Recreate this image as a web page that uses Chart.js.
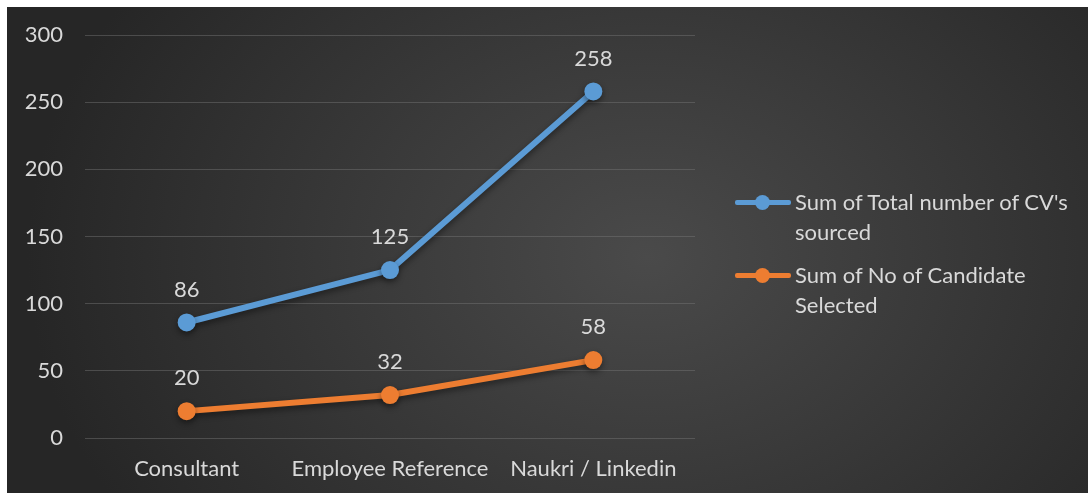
<!DOCTYPE html>
<html><head><meta charset="utf-8">
<script src="https://cdn.jsdelivr.net/npm/chart.js@4/dist/chart.umd.min.js"></script>
<style>
html,body{margin:0;padding:0;background:#fff;width:1088px;height:495px;overflow:hidden;}
#wrap{position:absolute;left:7px;top:7px;width:1081px;height:486px;
 background:radial-gradient(ellipse 620px 480px at 640px 250px,#4a4a4a 0%,#3a3a3a 45%,#262626 100%);}
#c{position:absolute;left:0;top:0;}
.leg{position:absolute;font-family:Lato,"Open Sans",sans-serif;font-size:22px;line-height:30px;color:#d9d9d9;}
.mk{position:absolute;width:56px;height:5px;border-radius:2px;}
.mk i{position:absolute;left:20px;top:-5px;width:15px;height:15px;border-radius:50%;}
</style></head>
<body>
<div id="wrap"><canvas id="c" width="1081" height="486"></canvas>
<div class="mk" style="left:728px;top:193px;background:#5B9BD5"><i style="background:#5B9BD5"></i></div>
<div class="leg" id="l1" style="left:788px;top:180px;"></div>
<div class="mk" style="left:728px;top:266px;background:#ED7D31"><i style="background:#ED7D31"></i></div>
<div class="leg" id="l2" style="left:788px;top:253px;"></div>
</div>
<script>
const categories = ["Consultant", "Employee Reference", "Naukri / Linkedin"];
const seriesNames = ["Sum of Total number of CV's sourced", "Sum of No of Candidate Selected"];
const cvSourced = [86, 125, 258];
const candidatesSelected = [20, 32, 58];
const yTicks = [0, 50, 100, 150, 200, 250, 300];

document.getElementById('l1').innerHTML = "Sum of Total number of CV's<br>sourced";
document.getElementById('l2').innerHTML = "Sum of No of Candidate<br>Selected";

const FONT = 'Lato, "Open Sans", sans-serif';
const TXT = '#d9d9d9';

const labelsPlugin = {
  id: 'dl',
  beforeDatasetDraw(chart) {
    const ctx = chart.ctx; ctx.save();
    ctx.shadowColor = 'rgba(0,0,0,0.45)'; ctx.shadowBlur = 6; ctx.shadowOffsetY = 3;
  },
  afterDatasetDraw(chart) { chart.ctx.restore(); },
  afterDatasetsDraw(chart) {
    const ctx = chart.ctx;
    ctx.save();
    ctx.font = '22px ' + FONT;
    ctx.fillStyle = TXT;
    ctx.textAlign = 'center';
    ctx.textBaseline = 'middle';
    chart.data.datasets.forEach((ds, i) => {
      chart.getDatasetMeta(i).data.forEach((pt, j) => {
        ctx.fillText(String(ds.data[j]), pt.x, pt.y - 33);
      });
    });
    ctx.restore();
  }
};

new Chart(document.getElementById('c'), {
  type: 'line',
  data: {
    labels: categories,
    datasets: [
      {label: seriesNames[0], data: cvSourced, borderColor: '#5B9BD5', backgroundColor: '#5B9BD5',
       borderWidth: 6, pointRadius: 9, pointBorderWidth: 0, pointHoverRadius: 9, tension: 0},
      {label: seriesNames[1], data: candidatesSelected, borderColor: '#ED7D31', backgroundColor: '#ED7D31',
       borderWidth: 6, pointRadius: 9, pointBorderWidth: 0, pointHoverRadius: 9, tension: 0}
    ]
  },
  options: {
    responsive: false, animation: false,
    layout: {padding: {top: 28, right: 393, left: 0, bottom: 0}},
    plugins: {legend: {display: false}, tooltip: {enabled: false}},
    scales: {
      x: {
        offset: true,
        grid: {display: false, drawTicks: false},
        border: {display: false},
        ticks: {color: TXT, font: {family: FONT, size: 22}, padding: 18},
        afterFit(s) { s.height = 55; s.paddingLeft = 0; s.paddingRight = 0; }
      },
      y: {
        min: 0, max: 300,
        afterBuildTicks(s) { s.ticks = yTicks.map(v => ({value: v})); },
        grid: {color: 'rgba(120,120,120,0.45)', lineWidth: 1, drawTicks: false},
        border: {display: false},
        ticks: {color: TXT, font: {family: FONT, size: 22}, padding: 22},
        afterFit(s) { s.width = 78; s.paddingTop = 0; s.paddingBottom = 0; }
      }
    }
  },
  plugins: [labelsPlugin]
});
</script>
</body></html>
